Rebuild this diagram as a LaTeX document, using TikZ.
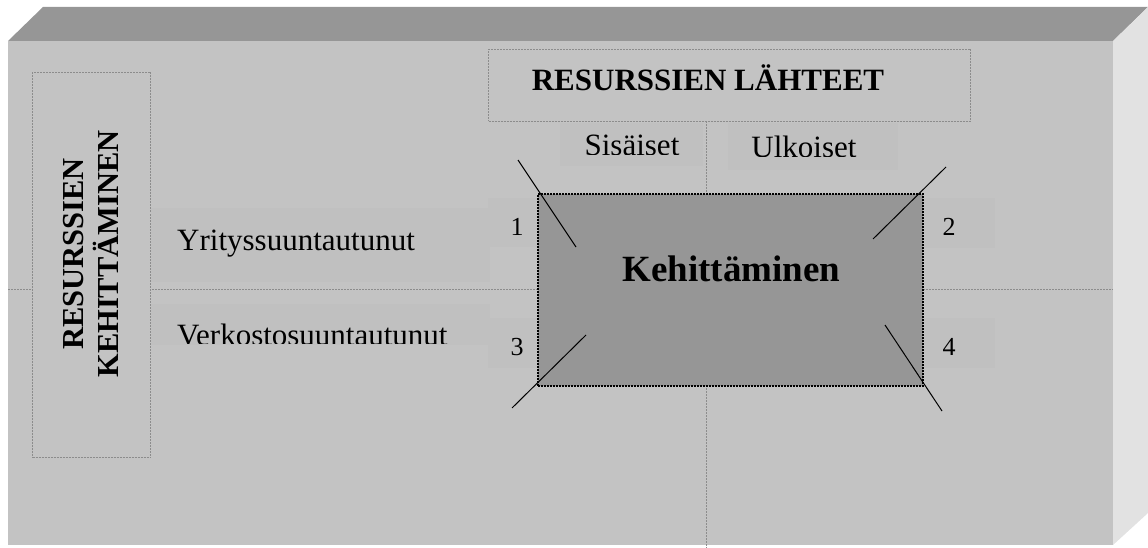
\documentclass[tikz,border=0pt]{standalone}
\usepackage{fontspec}
\setmainfont{Liberation Serif}
\definecolor{topface}{RGB}{150,150,150}
\definecolor{rightface}{RGB}{226,226,226}
\definecolor{frontface}{RGB}{195,195,195}
\definecolor{bandfill}{RGB}{192,192,192}
\definecolor{centerfill}{RGB}{150,150,150}
\definecolor{dashgray}{RGB}{140,140,140}
\tikzset{
  band/.style={fill=bandfill, draw=none},
  grayframe/.style={draw=dashgray, line width=1pt, dash pattern=on 2pt off 1pt},
  divider/.style={draw=dashgray, line width=1pt, dash pattern=on 2pt off 1pt},
  diag/.style={draw=black, line width=1pt},
  lbl/.style={font=\fontsize{31}{36}\selectfont, inner sep=0pt},
  blbl/.style={font=\fontsize{31}{36}\selectfont\bfseries, inner sep=0pt},
  numlbl/.style={font=\fontsize{26}{30}\selectfont, inner sep=0pt},
}
\begin{document}
\begin{tikzpicture}[x=1pt,y=-1pt]
\useasboundingbox (0,0) rectangle (1148,548);
% 3D slab
\fill[topface] (8,41) -- (43,7) -- (1148,7) -- (1113,41) -- cycle;
\fill[rightface] (1113,41) -- (1148,7) -- (1148,513) -- (1113,545) -- cycle;
\fill[frontface] (8,41) rectangle (1113,545);
% bands
\fill[band] (150,208) rectangle (490,282);
\fill[band] (150,304) rectangle (490,345);
\fill[band] (488,198) rectangle (537,247);
\fill[band] (488,318) rectangle (537,368);
\fill[band] (922,198) rectangle (995,248);
\fill[band] (922,318) rectangle (995,368);
\fill[band] (560,123) rectangle (703,166);
\fill[band] (728,123) rectangle (898,170);
% dividers
\coordinate (hl) at (8,289);
\coordinate (hr) at (1113,289);
\coordinate (vt) at (706,121);
\coordinate (vb) at (706,548);
\draw[divider] (hl) -- (hr);
\draw[divider] (vt) -- (vb);
% left box
\node[grayframe, fill=frontface, minimum width=118pt, minimum height=385pt, anchor=north west, inner sep=0pt] (lbox) at (32,72) {};
\node[blbl, rotate=90, anchor=base, font=\fontsize{30.5}{36}\selectfont\bfseries] (res1) at (83,254) {RESURSSIEN};
\node[blbl, rotate=90, anchor=base, font=\fontsize{30.5}{36}\selectfont\bfseries] (res2) at (118,254) {KEHITTÄMINEN};
% top box
\node[grayframe, fill=frontface, minimum width=482pt, minimum height=72pt, anchor=north west, inner sep=0pt] (tbox) at (488,49) {};
\node[blbl, anchor=base] (tlab) at (708,91) {RESURSSIEN LÄHTEET};
% clipped labels
\begin{scope}
\clip (550,110) rectangle (710,154.5);
\node[lbl, anchor=base] (sis) at (632,156) {Sisäiset};
\end{scope}
\begin{scope}
\clip (720,110) rectangle (900,156.5);
\node[lbl, anchor=base] (ulk) at (804,158) {Ulkoiset};
\end{scope}
\node[lbl, anchor=base west] (yri) at (177,251) {Yrityssuuntautunut};
\begin{scope}
\clip (150,300) rectangle (490,343);
\node[lbl, anchor=base west] (ver) at (177,345.5) {Verkostosuuntautunut};
\end{scope}
% central box
\node[draw=black, line width=1.6pt, dash pattern=on 2pt off 1pt, fill=centerfill, minimum width=385pt, minimum height=192pt, anchor=north west, inner sep=0pt] (kb) at (537,193) {};
\node[font=\fontsize{37}{42}\selectfont\bfseries, anchor=base, inner sep=0pt] (keh) at (731.5,281) {Kehittäminen};
% numbers
\node[numlbl] (n1) at (517,227) {1};
\node[numlbl] (n2) at (949,227) {2};
\node[numlbl] (n3) at (517,347) {3};
\node[numlbl] (n4) at (949,347) {4};
% diagonal strokes
\coordinate (d1a) at (518,160); \coordinate (d1b) at (576,247);
\coordinate (d2a) at (946,167); \coordinate (d2b) at (873,239);
\coordinate (d3a) at (586,335); \coordinate (d3b) at (512,408);
\coordinate (d4a) at (885,325); \coordinate (d4b) at (942,411);
\draw[diag] (d1a) -- (d1b);
\draw[diag] (d2a) -- (d2b);
\draw[diag] (d3a) -- (d3b);
\draw[diag] (d4a) -- (d4b);
\end{tikzpicture}
\end{document}
